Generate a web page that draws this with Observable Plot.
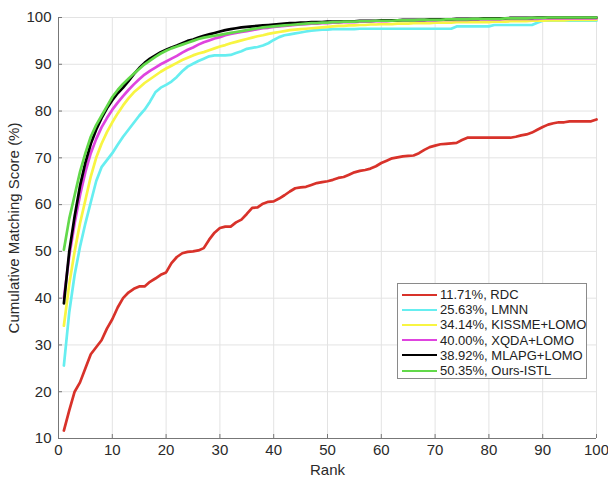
<!DOCTYPE html>
<html>
<head>
<meta charset="utf-8">
<script src="https://cdn.jsdelivr.net/npm/d3@7"></script>
<script src="https://cdn.jsdelivr.net/npm/@observablehq/plot@0.6"></script>
<style>
  html, body { margin: 0; padding: 0; background: #fff; }
  #wrap { position: relative; width: 608px; height: 479px; font-family: "Liberation Sans", Arial, sans-serif; }
  #legend { position: absolute; left: 397px; top: 283px; width: 190px; height: 96px; border: 1px solid #8a8a8a; background: #fff; box-sizing: border-box; padding-top: 3px; }
  .row { display: flex; align-items: center; height: 15.2px; font-size: 13px; color: #222; white-space: nowrap; }
  .sw { flex: none; width: 35px; height: 0; border-top: 2.6px solid; margin-left: 4px; margin-right: 3px; }
</style>
</head>
<body>
<div id="wrap"></div>
<script>
const ranks = d3.range(1, 101);
const seriesNames = ["11.71%, RDC", "25.63%, LMNN", "34.14%, KISSME+LOMO", "40.00%, XQDA+LOMO", "38.92%, MLAPG+LOMO", "50.35%, Ours-ISTL"];
const seriesColors = ["#d8322a", "#66eef0", "#f8f542", "#df44df", "#000000", "#62d94a"];
const xTicks = [0, 10, 20, 30, 40, 50, 60, 70, 80, 90, 100];
const yTicks = [10, 20, 30, 40, 50, 60, 70, 80, 90, 100];

const rdc = [11.7,16,20,22,25,28,29.5,31,33.5,35.5,
38,40,41.2,42,42.5,42.5,43.5,44.2,45,45.5,
47.5,48.8,49.6,49.9,50,50.2,50.7,52.5,54,55,
55.3,55.3,56.2,56.8,58,59.3,59.4,60.2,60.6,60.7,
61.3,62,62.8,63.5,63.7,63.8,64.2,64.6,64.8,65,
65.3,65.7,65.9,66.4,66.9,67.2,67.4,67.7,68.2,68.9,
69.4,69.9,70.1,70.3,70.4,70.5,71,71.7,72.3,72.6,
72.9,73,73.1,73.2,73.8,74.3,74.3,74.3,74.3,74.3,
74.3,74.3,74.3,74.3,74.5,74.8,75,75.4,76,76.6,
77.1,77.4,77.6,77.6,77.8,77.8,77.8,77.8,77.8,78.2];

const lmnn = [25.6,37,45,51,56,60.5,65,68,69.5,71,
72.8,74.5,76,77.5,79,80.3,82,84,85,85.6,
86.3,87.3,88.5,89.5,90.1,90.7,91.2,91.7,91.9,91.9,
91.9,92,92.4,92.8,93.3,93.5,93.7,94,94.5,95.2,
95.8,96.2,96.4,96.6,96.8,97,97.2,97.3,97.4,97.4,
97.5,97.5,97.5,97.5,97.5,97.6,97.6,97.6,97.6,97.6,
97.6,97.6,97.6,97.6,97.6,97.6,97.6,97.6,97.6,97.6,
97.6,97.6,97.6,98.1,98.1,98.1,98.1,98.1,98.1,98.1,
98.4,98.4,98.4,98.4,98.4,98.4,98.4,98.4,98.9,99.3,
99.3,99.3,99.3,99.3,99.3,99.3,99.3,99.3,99.3,99.3];

const kissme = [34.1,43,50,56,61,66,70,73,75.5,77.6,
79.5,81.2,82.7,84,85,86,86.8,87.6,88.4,89.1,
89.7,90.3,90.9,91.4,91.9,92.3,92.6,93,93.4,93.8,
94.1,94.5,94.8,95.1,95.4,95.7,96,96.2,96.5,96.7,
96.9,97.1,97.3,97.4,97.5,97.6,97.7,97.8,97.9,98,
98.1,98.2,98.2,98.3,98.3,98.4,98.4,98.5,98.5,98.6,
98.6,98.6,98.7,98.7,98.7,98.8,98.8,98.8,98.8,98.9,
98.9,98.9,98.9,99,99,99,99,99,99,99,
99.1,99.1,99.1,99.2,99.2,99.2,99.2,99.3,99.3,99.3,
99.4,99.4,99.4,99.4,99.5,99.5,99.5,99.5,99.5,99.5];

const xqda = [40,49,56,62,67,71,74,76.5,78.5,80.3,
81.8,83.2,84.5,85.7,86.8,87.8,88.6,89.3,90,90.6,
91.2,91.8,92.5,93.1,93.6,94.2,94.7,95.1,95.5,95.8,
96.2,96.5,96.7,96.9,97.1,97.3,97.5,97.7,97.8,98,
98.1,98.2,98.3,98.4,98.5,98.6,98.7,98.7,98.8,98.8,
98.9,98.9,99,99,99,99.1,99.1,99.1,99.2,99.2,
99.2,99.3,99.3,99.3,99.3,99.4,99.4,99.4,99.4,99.4,
99.5,99.5,99.5,99.5,99.5,99.5,99.6,99.6,99.6,99.6,
99.6,99.6,99.7,99.7,99.7,99.7,99.7,99.7,99.7,99.8,
99.8,99.8,99.8,99.8,99.8,99.8,99.8,99.8,99.8,99.8];

const mlapg = [38.9,50,57.5,64,69,73,76,78.5,80.6,82.3,
83.8,85,86.4,87.9,89.2,90.3,91.2,91.9,92.6,93.1,
93.6,94,94.5,95,95.3,95.7,96.1,96.4,96.7,97,
97.3,97.5,97.7,97.9,98,98.1,98.2,98.3,98.4,98.5,
98.6,98.7,98.8,98.8,98.9,98.9,99,99,99,99.1,
99.1,99.1,99.2,99.2,99.2,99.3,99.3,99.3,99.3,99.4,
99.4,99.4,99.4,99.5,99.5,99.5,99.5,99.5,99.6,99.6,
99.6,99.6,99.6,99.7,99.7,99.7,99.7,99.7,99.8,99.8,
99.8,99.8,99.8,99.9,99.9,99.9,99.9,99.9,100,100,
100,100,100,100,100,100,100,100,100,100];

const istl = [50.35,57,62,67,71,74.5,77,79,81,83,
84.5,85.8,86.9,88,89,90,90.8,91.6,92.3,92.9,
93.4,93.8,94.2,94.6,95,95.4,95.7,95.9,96.1,96.3,
96.5,96.7,96.9,97.1,97.3,97.5,97.7,97.9,98,98.1,
98.2,98.3,98.4,98.5,98.6,98.7,98.8,98.8,98.9,98.9,
99,99,99.1,99.1,99.1,99.2,99.2,99.2,99.3,99.3,
99.3,99.3,99.4,99.4,99.4,99.4,99.5,99.5,99.5,99.5,
99.5,99.6,99.6,99.6,99.6,99.6,99.7,99.7,99.7,99.7,
99.7,99.7,99.8,99.8,99.8,99.8,99.8,99.9,99.9,99.9,
100,100,100,100,100,100,100,100,100,100];

const allSeries = [rdc, lmnn, kissme, xqda, mlapg, istl];
const tidy = allSeries.map((vals, s) => vals.map((v, i) => ({rank: ranks[i], value: v, s})));

const chart = Plot.plot({
  width: 608,
  height: 479,
  marginLeft: 58,
  marginRight: 12,
  marginTop: 17,
  marginBottom: 41,
  style: {fontFamily: "Liberation Sans, Arial, sans-serif", fontSize: "14px", color: "#2a2a2a", background: "#fff"},
  x: {domain: [0, 100]},
  y: {domain: [10, 100]},
  marks: [
    Plot.gridX(xTicks, {stroke: "#e3e3e3", strokeOpacity: 1}),
    Plot.gridY(yTicks, {stroke: "#e3e3e3", strokeOpacity: 1}),
    Plot.axisX(xTicks, {tickSize: -4, tickPadding: 10, stroke: "#777", fontSize: 15, label: "Rank", labelAnchor: "center", labelOffset: 36, labelArrow: "none"}),
    Plot.axisY(yTicks, {tickSize: -4, tickPadding: 11, stroke: "#777", fontSize: 15, label: "Cumulative Matching Score (%)", labelAnchor: "center", labelOffset: 50, labelArrow: "none"}),
    Plot.ruleX([0], {stroke: "#777"}),
    Plot.ruleY([10], {stroke: "#777"}),
    ...tidy.map((rows, s) => Plot.line(rows, {x: "rank", y: "value", stroke: seriesColors[s], strokeWidth: 2.7}))
  ]
});

const wrap = document.getElementById("wrap");
wrap.appendChild(chart);
const legend = document.createElement("div");
legend.id = "legend";
seriesNames.forEach((name, i) => {
  const row = document.createElement("div");
  row.className = "row";
  const sw = document.createElement("div");
  sw.className = "sw";
  sw.style.borderTopColor = seriesColors[i];
  const t = document.createElement("span");
  t.textContent = name;
  row.appendChild(sw);
  row.appendChild(t);
  legend.appendChild(row);
});
wrap.appendChild(legend);
</script>
</body>
</html>
